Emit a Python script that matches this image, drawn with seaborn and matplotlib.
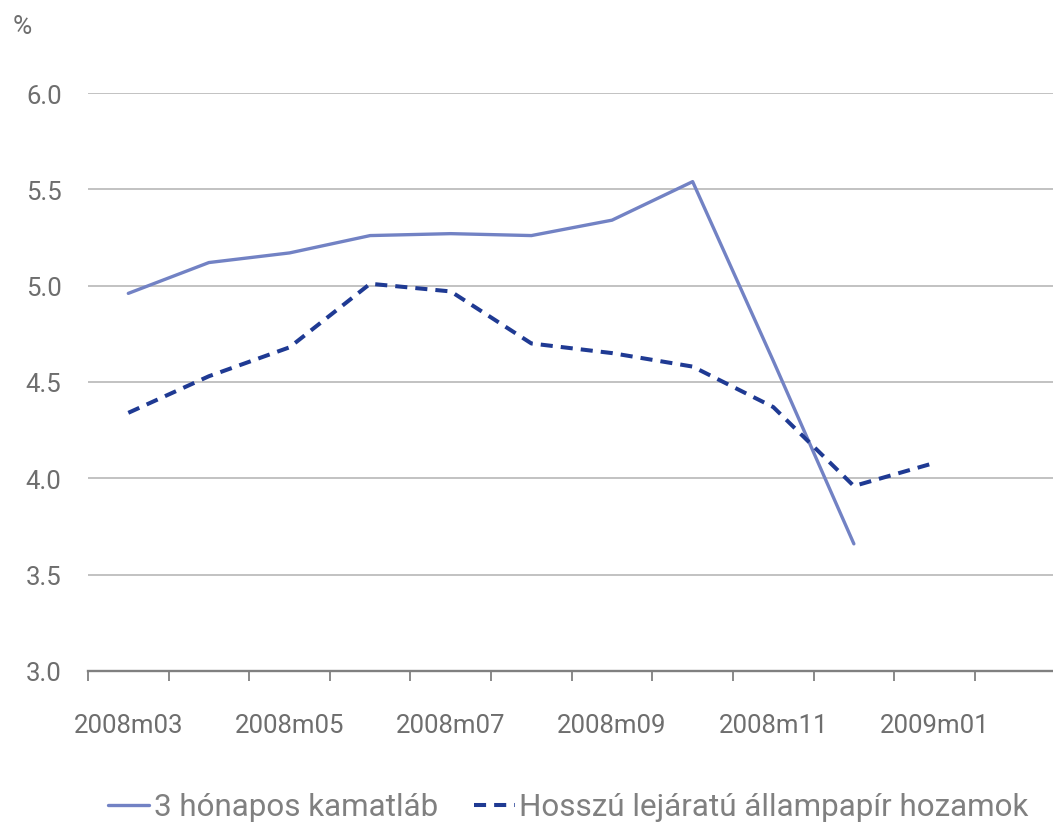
import numpy as np
import pandas as pd
import matplotlib.pyplot as plt
from matplotlib.ticker import FixedLocator
import seaborn as sns

# monthly data
months = ['2008m03', '2008m04', '2008m05', '2008m06', '2008m07', '2008m08',
          '2008m09', '2008m10', '2008m11', '2008m12', '2009m01', '2009m02']
rate_3m = [4.96, 5.12, 5.17, 5.26, 5.27, 5.26, 5.34, 5.54, 4.61, 3.66, np.nan, np.nan]
long_yield = [4.34, 4.53, 4.68, 5.01, 4.97, 4.70, 4.65, 4.58, 4.37, 3.96, 4.08, np.nan]
label_3m = '3 hónapos kamatláb'
label_long = 'Hosszú lejáratú állampapír hozamok'
y_ticks = [3.0, 3.5, 4.0, 4.5, 5.0, 5.5, 6.0]

df = pd.DataFrame({'pos': np.arange(len(months)), 'month': months,
                   'r3': rate_3m, 'lt': long_yield})

sns.set_style('white')
plt.rcParams['font.family'] = ['Roboto', 'DejaVu Sans']

grey = '#6e6e6e'
c_solid = '#7282c4'
c_dash = '#1f3a93'

fig = plt.figure(figsize=(10.53, 8.29), dpi=100)
ax = fig.add_axes([88 / 1053, 1 - 672 / 829, 1 - 88 / 1053, (672 - 94) / 829])

sns.lineplot(data=df, x='pos', y='r3', ax=ax, color=c_solid, lw=2.4, label=label_3m)
sns.lineplot(data=df, x='pos', y='lt', ax=ax, color=c_dash, lw=2.9,
             linestyle=(0, (3.0, 2.0)), label=label_long)

ax.set_xlim(-0.5, 11.47)
ax.set_ylim(3.0, 6.0)
ax.set_yticks(y_ticks)
ax.set_yticklabels([f'{v:.1f}' for v in y_ticks])
ax.set_xticks(np.arange(0, len(months), 2))
ax.set_xticklabels(months[::2])
ax.xaxis.set_minor_locator(FixedLocator(np.arange(-0.5, len(months), 1)))
ax.set_xlabel('')
ax.set_ylabel('')

ax.grid(axis='y', color='#b8b8b8', lw=1.2)
ax.set_axisbelow(True)
for s in ['top', 'right', 'left']:
    ax.spines[s].set_visible(False)
ax.spines['bottom'].set_color('#808080')
ax.spines['bottom'].set_linewidth(1.7)

ax.tick_params(axis='y', length=0, pad=19, labelsize=18.5, labelcolor=grey)
ax.tick_params(axis='x', which='major', length=0, pad=30, labelsize=18.5, labelcolor=grey)
ax.tick_params(axis='x', which='minor', bottom=True, length=7, width=1.3,
               color='#808080', direction='out')

fig.text(22 / 1053, 1 - 27 / 829, '%', ha='center', va='center', fontsize=19, color=grey)

ax.get_legend().remove()
handles, labels = ax.get_legend_handles_labels()
fig.legend(handles, labels, loc='center left', bbox_to_anchor=(108 / 1053, 1 - 808 / 829),
           ncol=2, frameon=False, fontsize=22.6, labelcolor='#808080',
           handlelength=1.3, handletextpad=0.15, columnspacing=1.15,
           borderpad=0, borderaxespad=0)

fig.savefig('out.png', dpi=100)
